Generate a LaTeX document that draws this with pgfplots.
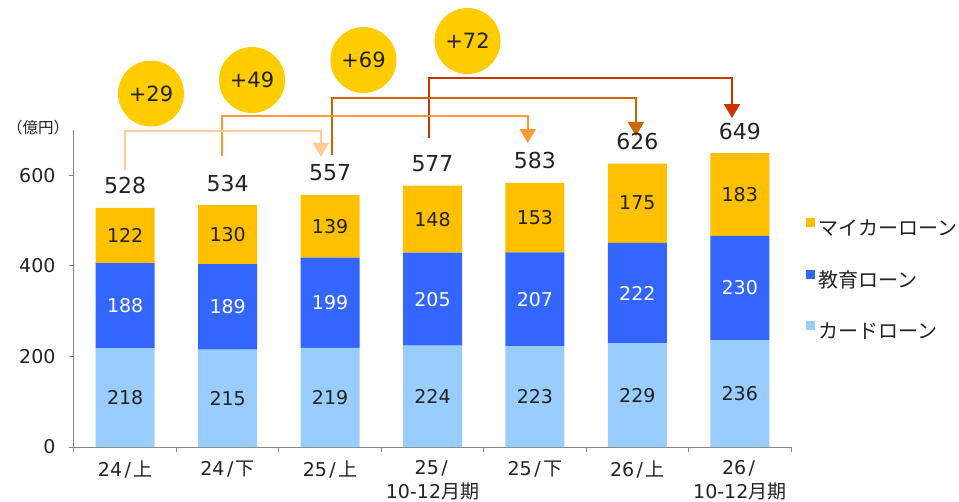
\documentclass[border=0pt]{standalone}
\usepackage{fontspec}
\setmainfont{DejaVu Sans}
\newfontfamily\jp{Noto Sans CJK JP}
\usepackage{pgfplots}
\pgfplotsset{compat=1.18}
\usetikzlibrary{arrows.meta}
\definecolor{cyel}{HTML}{FFC000}
\definecolor{cblue}{HTML}{3366FF}
\definecolor{clb}{HTML}{99CCFF}
\definecolor{ccirc}{HTML}{FFCC00}
\definecolor{aone}{HTML}{FFCC99}
\definecolor{atwo}{HTML}{FF9933}
\definecolor{athree}{HTML}{CC6600}
\definecolor{afour}{HTML}{CC3300}
\definecolor{axisgray}{HTML}{868686}
\definecolor{txt}{HTML}{222222}
\newcommand\fs[1]{\fontsize{#1}{#1}\selectfont}
\newcommand\slh{\kern2.5bp/\kern2.5bp}
\begin{document}
\begin{tikzpicture}
\begin{axis}[
  at={(0,0)}, anchor=south west,
  scale only axis, width=717bp, height=317bp,
  xmin=-0.5, xmax=6.5, ymin=0, ymax=700,
  clip=false,
  ybar stacked, bar width=0.576,
  axis x line*=bottom, axis y line*=left,
  axis line style={draw=axisgray, line width=1bp},
  tick align=outside,
  major tick length=5bp, minor tick length=5bp,
  ytick={0,200,400,600},
  ytick style={draw=axisgray, line width=1bp},
  major x tick style={draw=none},
  minor x tick style={draw=axisgray, line width=1bp},
  minor xtick={-0.5,0.5,...,6.5},
  xtick={0,...,6},
  xticklabels={{24\slh{\jp 上}},{24\slh{\jp 下}},{25\slh{\jp 上}},{25\slh\\10-12{\jp 月期}},{25\slh{\jp 下}},{26\slh{\jp 上}},{26\slh\\10-12{\jp 月期}}},
  xticklabel style={align=center, anchor=north, font=\fontsize{19bp}{23.5bp}\selectfont, text=txt, yshift=-5bp},
  yticklabel style={font=\fs{19bp}, text=txt, xshift=-10bp},
  /pgf/number format/assume math mode=true,
  nodes near coords={\pgfmathprintnumber{\pgfplotspointmeta}},
  point meta=rawy,
  every node near coord/.append style={anchor=center, font=\fs{19bp}, text=txt},
  reverse legend,
  legend cell align=left,
  legend image code/.code={\fill[#1] (0bp,3bp) rectangle (9bp,12bp);},
  legend style={at={(rel axis cs:1.021,0.722)}, anchor=north west, draw=none, fill=none, inner sep=0pt,
    row sep=31bp, font=\jp\fs{20bp},
    nodes={inner sep=0pt, inner xsep=3bp, text height=14bp, text depth=3bp, text=txt}},
]
\addplot[fill=clb, draw=none] coordinates {(0,218) (1,215) (2,219) (3,224) (4,223) (5,229) (6,236)};
\addlegendentry{カードローン}
\addplot[fill=cblue, draw=none, every node near coord/.append style={text=white}] coordinates {(0,188) (1,189) (2,199) (3,205) (4,207) (5,222) (6,230)};
\addlegendentry{教育ローン}
\addplot[fill=cyel, draw=none] coordinates {(0,122) (1,130) (2,139) (3,148) (4,153) (5,175) (6,183)};
\addlegendentry{マイカーローン}
\addplot[forget plot, fill=none, draw=none, point meta=explicit,
  every node near coord/.append style={yshift=22bp, font=\fs{22bp}, text=txt}]
  coordinates {(0,0.01) [528] (1,0.01) [534] (2,0.01) [557] (3,0.01) [577] (4,0.01) [583] (5,0.01) [626] (6,0.01) [649]};
% change arrows
\draw[aone, line width=2bp, -{Triangle[width=16bp,length=14bp]}] (axis cs:0,611.7) -- (axis cs:0,697.8) -- (axis cs:1.91,697.8) -- (axis cs:1.91,640.4);
\draw[atwo, line width=2bp, -{Triangle[width=16bp,length=14bp]}] (axis cs:0.945,642.6) -- (axis cs:0.945,730.9) -- (axis cs:3.93,730.9) -- (axis cs:3.93,671.3);
\draw[athree, line width=2bp, -{Triangle[width=16bp,length=14bp]}] (axis cs:2.019,644.8) -- (axis cs:2.019,770.6) -- (axis cs:4.986,770.6) -- (axis cs:4.986,686.8);
\draw[afour, line width=2bp, -{Triangle[width=16bp,length=14bp]}] (axis cs:2.966,682.3) -- (axis cs:2.966,814.8) -- (axis cs:5.924,814.8) -- (axis cs:5.924,726.5);
\node[circle, fill=ccirc, inner sep=0pt, minimum size=66bp, font=\fs{21bp}, text=txt] at (axis cs:0.252,780.6) {+29};
\node[circle, fill=ccirc, inner sep=0pt, minimum size=66bp, font=\fs{21bp}, text=txt] at (axis cs:1.238,810.4) {+49};
\node[circle, fill=ccirc, inner sep=0pt, minimum size=66bp, font=\fs{21bp}, text=txt] at (axis cs:2.326,854.6) {+69};
\node[circle, fill=ccirc, inner sep=0pt, minimum size=66bp, font=\fs{21bp}, text=txt] at (axis cs:3.342,896.5) {+72};
\node[font=\jp\fs{15.5bp}, text=txt] at (rel axis cs:-0.0502,1.0063) {（億円）};
\end{axis}
\pgfresetboundingbox
\useasboundingbox (-74bp,-55bp) rectangle (885bp,447bp);
\end{tikzpicture}
\end{document}
